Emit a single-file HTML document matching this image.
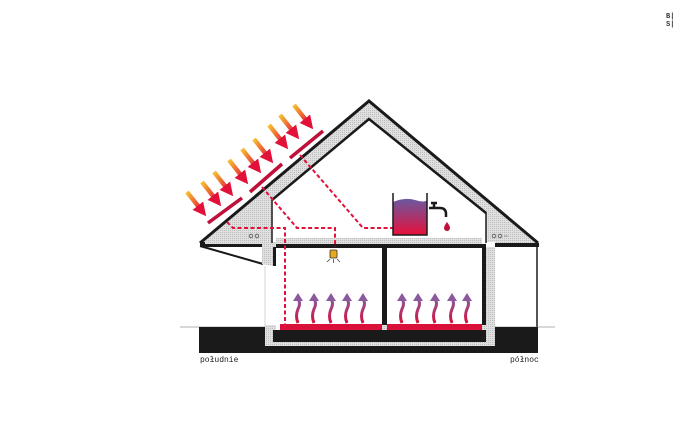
<!DOCTYPE html>
<html><head><meta charset="utf-8"><style>
html,body{margin:0;padding:0;background:#fff;}
svg{display:block;}
text{font-family:"Liberation Mono",monospace;}
</style></head><body>
<svg width="700" height="443" viewBox="0 0 700 443" xmlns="http://www.w3.org/2000/svg">
<defs>
<pattern id="dots" width="2" height="2" patternUnits="userSpaceOnUse"><rect width="2" height="2" fill="#e0e0e0"/><rect width="1" height="1" fill="#bdbdbd"/></pattern>
<linearGradient id="sun" x1="0" y1="0" x2="1" y2="1"><stop offset="0" stop-color="#f7c330"/><stop offset="1" stop-color="#e3103a"/></linearGradient>
<linearGradient id="tank" x1="0" y1="0" x2="0" y2="1"><stop offset="0" stop-color="#6a58a0"/><stop offset="1" stop-color="#e8103a"/></linearGradient>
<linearGradient id="heat" x1="0" y1="1" x2="0" y2="0"><stop offset="0" stop-color="#d8103a"/><stop offset="1" stop-color="#8a5a9c"/></linearGradient>
<marker id="ah" viewBox="0 0 10 10" refX="5" refY="5" markerWidth="3" markerHeight="3" orient="auto"><path d="M0,0 L10,5 L0,10 z" fill="#e3103a"/></marker>
</defs>
<text x="666" y="18" font-size="7" font-weight="bold" fill="#333">B|</text>
<text x="666" y="26" font-size="7" font-weight="bold" fill="#333">S|</text>
<polygon points="200,242 369,100 538,242 538,247 495,247 495,242 486,242 486,212 369,119 272,198 272,242 276,242 276,247 200,247" fill="url(#dots)"/>
<polygon points="276,238 482,238 482,245 276,245" fill="url(#dots)"/>
<polyline points="200,243 369,101 538,243" fill="none" stroke="#1a1a1a" stroke-width="3"/>
<polyline points="272,200 369,119 486,213" fill="none" stroke="#1a1a1a" stroke-width="2.5"/>
<line x1="272" y1="199" x2="272" y2="243" stroke="#1a1a1a" stroke-width="1.5"/>
<line x1="486" y1="212" x2="486" y2="243" stroke="#1a1a1a" stroke-width="1.5"/>
<rect x="276" y="244" width="210" height="4" fill="#1a1a1a"/>
<rect x="200" y="242" width="5" height="5" fill="#1a1a1a"/>
<rect x="495" y="243" width="44" height="4" fill="#1a1a1a"/>
<rect x="200" y="244" width="62" height="3" fill="#1a1a1a"/>
<line x1="200" y1="246" x2="263" y2="264" stroke="#1a1a1a" stroke-width="2"/>
<polygon points="262,247 273,247 273,266 262,264" fill="url(#dots)"/>
<rect x="273" y="247" width="3" height="19" fill="#1a1a1a"/>
<line x1="265" y1="266" x2="265" y2="327" stroke="#ccc" stroke-width="0.8"/>
<rect x="382" y="247" width="5" height="84" fill="#1a1a1a"/>
<rect x="482" y="247" width="4" height="96" fill="#1a1a1a"/>
<rect x="486" y="247" width="9" height="98" fill="url(#dots)"/>
<line x1="537" y1="247" x2="537" y2="327" stroke="#1a1a1a" stroke-width="1.5"/>
<line x1="180" y1="327" x2="555" y2="327" stroke="#999" stroke-width="0.8"/>
<rect x="199" y="327" width="339" height="26" fill="#1a1a1a"/>
<rect x="265" y="325" width="230" height="21" fill="url(#dots)"/>
<rect x="273" y="330" width="213" height="12" fill="#1a1a1a"/>
<rect x="280" y="324" width="102" height="6" fill="#d8103a"/>
<rect x="387" y="324" width="95" height="6" fill="#d8103a"/>
<rect x="276" y="324" width="4" height="6" fill="#fff"/>
<g fill="none" stroke="#555" stroke-width="0.8"><circle cx="251" cy="236" r="1.8"/><circle cx="257" cy="236" r="1.8"/><circle cx="494" cy="236" r="1.8"/><circle cx="500" cy="236" r="1.8"/></g>
<line x1="504" y1="236" x2="508" y2="236" stroke="#888" stroke-width="0.8"/>
<g fill="none" stroke="#e3103a" stroke-width="2" stroke-dasharray="4,2.5">
<polyline points="227,222 233,228 285,228 285,327"/>
<polyline points="262,187 297,228 335,228 335,247"/>
<polyline points="300,155 363,228 393,228"/>
</g>
<g stroke="#c0103a" stroke-width="3.5"><line x1="208" y1="223" x2="242" y2="198"/><line x1="250" y1="192" x2="282" y2="164"/><line x1="290" y1="158" x2="323" y2="131"/></g>
<g stroke="url(#sun)" stroke-width="4.5" marker-end="url(#ah)">
<line x1="187" y1="192" x2="202" y2="211"/>
<line x1="202" y1="182" x2="217" y2="201"/>
<line x1="214" y1="172" x2="229" y2="191"/>
<line x1="229" y1="160" x2="244" y2="179"/>
<line x1="242" y1="149" x2="257" y2="168"/>
<line x1="254" y1="139" x2="269" y2="158"/>
<line x1="269" y1="125" x2="284" y2="144"/>
<line x1="280" y1="115" x2="295" y2="134"/>
<line x1="294" y1="105" x2="309" y2="124"/>
</g>
<path d="M393,202 Q405,197 415,200 T427,200 L427,235 L393,235 Z" fill="url(#tank)"/>
<polyline points="393,193 393,235 427,235 427,193" fill="none" stroke="#1a1a1a" stroke-width="1.5"/>
<path d="M429,208 L440,208 Q446,208 446,214 L446,217 M434,203 L434,208 M431,203 L437,203" fill="none" stroke="#1a1a1a" stroke-width="2.5"/>
<path d="M447,222 Q450,226 450,228 A2.5,2.5 0 1 1 444,228 Q444,226 447,222 Z" fill="#c0103a"/>
<rect x="330" y="250" width="7" height="8" rx="1" fill="#e8a820" stroke="#333" stroke-width="0.8"/>
<g stroke="#333" stroke-width="0.7"><line x1="333.5" y1="259" x2="333.5" y2="263"/><line x1="330" y1="259" x2="327" y2="262"/><line x1="337" y1="259" x2="340" y2="262"/></g>
<g fill="none" stroke="url(#heat)" stroke-width="3">
<path d="M298,323 q-3,-7 0,-14 q3,-6 0,-10"/><path d="M314,323 q-3,-7 0,-14 q3,-6 0,-10"/><path d="M331,323 q-3,-7 0,-14 q3,-6 0,-10"/><path d="M347,323 q-3,-7 0,-14 q3,-6 0,-10"/><path d="M363,323 q-3,-7 0,-14 q3,-6 0,-10"/>
<path d="M402,323 q-3,-7 0,-14 q3,-6 0,-10"/><path d="M418,323 q-3,-7 0,-14 q3,-6 0,-10"/><path d="M435,323 q-3,-7 0,-14 q3,-6 0,-10"/><path d="M452,323 q-3,-7 0,-14 q3,-6 0,-10"/><path d="M467,323 q-3,-7 0,-14 q3,-6 0,-10"/>
</g>
<g fill="#8a5a9c">
<polygon points="293,301 303,301 298,293"/><polygon points="309,301 319,301 314,293"/><polygon points="326,301 336,301 331,293"/><polygon points="342,301 352,301 347,293"/><polygon points="358,301 368,301 363,293"/>
<polygon points="397,301 407,301 402,293"/><polygon points="413,301 423,301 418,293"/><polygon points="430,301 440,301 435,293"/><polygon points="447,301 457,301 452,293"/><polygon points="462,301 472,301 467,293"/>
</g>
<text x="200" y="362" font-size="8" fill="#222">południe</text>
<text x="510" y="362" font-size="8" fill="#222">północ</text>
</svg>
</body></html>
